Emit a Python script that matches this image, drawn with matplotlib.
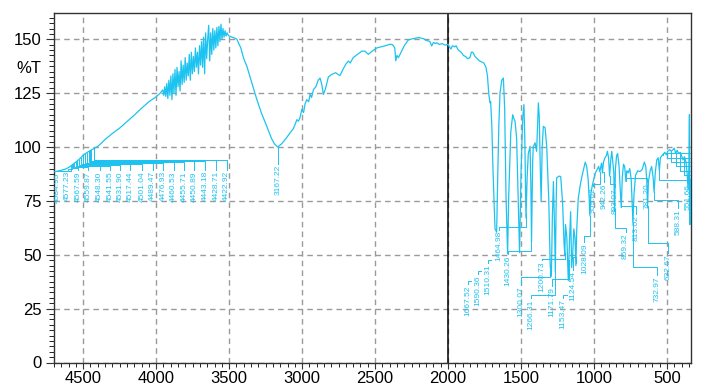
import numpy as np
import matplotlib
matplotlib.use('Agg')
import matplotlib.pyplot as plt
from matplotlib.ticker import MultipleLocator
from matplotlib.transforms import blended_transform_factory

plt.rcParams['font.family'] = ['Liberation Sans', 'DejaVu Sans']

# ---------------- spectrum data (wavenumber cm-1, %T) ----------------
# 4700-3960: smooth rising baseline
nir = [(4700, 88.5), (4650, 89.2), (4620, 89.8), (4600, 90.5), (4580, 91.5), (4560, 92.5),
       (4540, 93.6), (4520, 94.8), (4500, 96.2), (4480, 97.2), (4460, 98.0), (4440, 98.8),
       (4420, 99.5), (4400, 100.3), (4380, 101.5), (4350, 103.5), (4300, 106.3), (4250, 108.8),
       (4200, 111.8), (4150, 114.8), (4100, 118.0), (4050, 121.0), (4000, 123.3), (3975, 124.8)]
# 3955-3500: noisy region
noisy = [(3955, 126.5), (3948, 124), (3941, 128), (3934, 123.5), (3927, 129.5), (3920, 122.5),
         (3913, 131), (3906, 124), (3899, 133), (3892, 122), (3885, 134), (3878, 125), (3871, 136),
         (3864, 124), (3857, 137), (3850, 128), (3843, 135), (3836, 126), (3829, 140), (3822, 129),
         (3815, 138), (3808, 130), (3801, 141.5), (3794, 131), (3787, 139), (3780, 133), (3773, 143),
         (3766, 131), (3759, 144), (3752, 134), (3745, 142), (3738, 135), (3731, 146), (3724, 137),
         (3717, 144), (3710, 134), (3703, 147), (3696, 138), (3689, 149), (3682, 137), (3675, 151),
         (3668, 134), (3661, 153), (3654, 141), (3647, 150), (3640, 156.5), (3633, 140), (3626, 153),
         (3619, 143), (3612, 155), (3605, 145), (3598, 154), (3591, 146), (3584, 155.5), (3577, 147),
         (3570, 156), (3563, 149), (3556, 157), (3549, 150), (3542, 155), (3535, 151), (3528, 154),
         (3521, 151.5), (3514, 153), (3507, 152), (3500, 151.5)]
# 3500-1712: broad O-H band and plateau
mid = [(3480, 151), (3460, 150.5), (3447, 150), (3420, 146), (3400, 141), (3379, 137.6), (3350, 131),
       (3310, 122), (3280, 116), (3242, 109.6), (3210, 104), (3190, 101.5), (3167, 100), (3140, 101.5),
       (3110, 104), (3082, 106.6), (3060, 108.5), (3045, 111), (3036, 112.7), (3025, 112),
       (3015, 113.5), (3002, 117.4), (2990, 116), (2980, 120), (2968, 122), (2955, 121),
       (2945, 124.5), (2935, 123), (2922, 126.7), (2905, 128), (2890, 131), (2877, 132), (2865, 129),
       (2854, 124.4), (2840, 127), (2820, 132.5), (2797, 133.7), (2770, 134.5), (2750, 133.5),
       (2740, 133.2), (2720, 136), (2700, 138.5), (2683, 139.9), (2670, 139), (2650, 141.5),
       (2620, 143), (2591, 144.5), (2570, 144.5), (2546, 143), (2520, 144.5), (2488, 146),
       (2460, 146.5), (2430, 147), (2397, 147.7), (2380, 147.5), (2365, 146), (2358, 140),
       (2350, 142.5), (2340, 141.5), (2329, 143), (2300, 147), (2272, 149.7), (2240, 150.3),
       (2200, 150.8), (2169, 150.3), (2150, 149.5), (2125, 149), (2112, 146.9), (2100, 148.5),
       (2085, 148), (2077, 148.4), (2060, 147.6), (2040, 148), (2020, 147.3), (2000, 147.7),
       (1990, 146.5), (1980, 145.5), (1970, 147), (1955, 146.5), (1945, 147), (1930, 145),
       (1910, 144), (1895, 142.5), (1880, 142), (1865, 141), (1850, 141.5), (1840, 144),
       (1830, 144), (1815, 142), (1800, 141), (1785, 140), (1770, 139.5), (1755, 139), (1740, 137),
       (1730, 133), (1720, 124)]
# 1712-340: fingerprint region
finger = [(1712, 120.5), (1708, 121), (1700, 110), (1694, 94), (1685, 75), (1678, 62), (1667, 60.5),
          (1660, 85), (1652, 110), (1644, 125), (1632, 131), (1621, 132), (1612, 118), (1603, 78),
          (1592, 50.5), (1584, 78), (1570, 107), (1557, 115), (1548, 113), (1541, 112), (1530, 104),
          (1520, 78), (1510, 51), (1500, 88), (1488, 114), (1480, 119.7), (1474, 104), (1466, 67),
          (1458, 86), (1450, 97), (1438, 100.3), (1432, 80), (1428, 56), (1420, 94), (1416, 100),
          (1404, 102), (1393, 98), (1387, 110), (1381, 120.5), (1375, 114), (1368, 90), (1362, 75),
          (1355, 100), (1347, 109.6), (1335, 109), (1324, 100.3), (1310, 76), (1300, 45), (1292, 40),
          (1285, 68), (1278, 84), (1270, 62), (1265, 42), (1260, 70), (1256, 85.6), (1240, 86.5),
          (1228, 86.3), (1215, 74), (1205, 55), (1200, 50), (1195, 64), (1186, 58), (1176, 38),
          (1168, 56), (1160, 70), (1153, 44), (1146, 50), (1138, 62), (1130, 58), (1124, 45),
          (1118, 62), (1108, 76), (1095, 82), (1085, 85.6), (1070, 90), (1060, 93), (1050, 91),
          (1040, 85), (1033, 76), (1028, 68), (1022, 78), (1012, 82), (1005, 84), (990, 88),
          (980, 89.4), (968, 91), (960, 88.5), (953, 91), (948, 92.5), (942, 88), (935, 93),
          (925, 95), (915, 96), (908, 98), (900, 95), (893, 86.5), (885, 94), (878, 98), (870, 92),
          (864, 88), (859, 70), (853, 90), (845, 96), (838, 97), (828, 91), (820, 80), (813, 72),
          (806, 86), (798, 92), (790, 91), (781, 84), (775, 89), (765, 88), (755, 90), (745, 85),
          (738, 74), (733, 65), (726, 78), (715, 87), (700, 89), (685, 88.6), (670, 89.5), (655, 93),
          (645, 91), (638, 84), (633, 72), (627, 84), (615, 89), (605, 91), (595, 86), (588, 79),
          (580, 88), (570, 94), (560, 95), (552, 89), (545, 95), (530, 96.4), (515, 97.5),
          (504, 96.4), (495, 98), (481, 98.8), (470, 98), (458, 98.8), (450, 99.5), (440, 97),
          (430, 98.5), (420, 97), (410, 97.5), (400, 96), (390, 94), (380, 95.5), (370, 93),
          (362, 88), (355, 80), (350, 90), (346, 115), (343, 64), (339, 85)]

# ---------------- peak labels ----------------
peaks_nir = [4584.95, 4577.23, 4567.59, 4559.87, 4548.30, 4541.55, 4531.90, 4517.44, 4501.04,
             4489.47, 4476.93, 4460.53, 4455.71, 4450.89, 4443.18, 4428.71, 4422.92]
peaks_main = [3167.22, 1667.52, 1590.36, 1510.31, 1464.98, 1430.26, 1300.07, 1266.31, 1200.73,
              1171.79, 1153.47, 1124.54, 1028.09, 959.62, 942.26, 893.07, 859.32, 813.02,
              781.20, 732.97, 632.67, 588.31, 551.66]
peaks_edge = [530, 500, 470, 440, 410, 380]   # labels lie beyond the right edge

# label layout (label x in cm-1, label top and elbow in %T)
nir_lab_x = [4680, 4607, 4536, 4464, 4388, 4315, 4246, 4178, 4098, 4025, 3954, 3881, 3808,
             3740, 3664, 3591, 3516]
nir_lab_top = [88.8] + [89.3] * 16
nir_elbow = [89.0, 89.8, 90.3, 90.7, 91.0, 91.3, 91.6, 91.9, 92.2, 92.5, 92.8, 93.0, 93.2,
             93.4, 93.6, 93.8, 94.0]
main_lab_x = [3167.22, 1863, 1798, 1729, 1649, 1587, 1503, 1431, 1358, 1288, 1210, 1142, 1065,
              1005, 928, 853, 784, 709, 637, 568, 491, 421, 353]
main_lab_top = [92.3, 36.3, 41.0, 46.1, 61.5, 50.3, 35.9, 29.8, 47.5, 35.4, 29.8, 42.9, 55.9,
                82.0, 83.8, 81.5, 60.6, 69.0, 83.8, 40.5, 50.8, 71.7, 83.4]
main_elbow = [93.3, None, None, None, 63.0, 51.7, 39.8, 31.2, 47.9, 38.7, None, 49.0, 58.7,
              83.0, 88.5, 83.0, 62.4, 72.7, 85.7, 44.3, 55.3, 75.5, 84.8]
edge_elbow = [97.0, 95.0, 93.0, 91.0, 89.0, 87.0]

C = '#1cc3f0'

wn = np.array([p[0] for p in nir + noisy + mid + finger], float)
tt = np.array([p[1] for p in nir + noisy + mid + finger], float)
order = np.argsort(wn)
wn_s, tt_s = wn[order], tt[order]

fig = plt.figure(figsize=(7.11, 3.91), dpi=100)
ax = fig.add_axes([54 / 711, 1 - 362.5 / 391, (690.6 - 54) / 711, (362.5 - 13) / 391])

ax.plot(wn, tt, color=C, lw=0.9, zorder=3)


def peak_t(p):
    return float(np.interp(p, wn_s, tt_s))


def leader(p, lx, top, elbow, text):
    if elbow is None:
        xs, ys = [lx, lx, lx - 22], [top, top + 1.3, top + 1.3]
    else:
        xs, ys = [p, p, lx, lx], [peak_t(p), elbow, elbow, top]
    ax.plot(xs, ys, color=C, lw=0.7, zorder=3, clip_on=True)
    if text:
        ax.text(lx, top - 0.5, text, rotation=90, ha='center', va='top', fontsize=6,
                color=C, clip_on=True, zorder=4)


for p, lx, top, el in zip(peaks_nir, nir_lab_x, nir_lab_top, nir_elbow):
    leader(p, lx, top, el, '%.2f' % p)
for p, lx, top, el in zip(peaks_main, main_lab_x, main_lab_top, main_elbow):
    leader(p, lx, top, el, '%.2f' % p)
for p, el in zip(peaks_edge, edge_elbow):
    leader(p, 300, el - 1, el, '')

ax.axvline(2000, color='black', lw=1.1, zorder=2)

ax.set_xlim(4700, 338)
ax.set_ylim(0, 162.2)
ax.xaxis.set_major_locator(MultipleLocator(500))
ax.xaxis.set_minor_locator(MultipleLocator(50))
ax.yaxis.set_major_locator(MultipleLocator(25))
ax.yaxis.set_minor_locator(MultipleLocator(2.5))
ax.grid(True, which='major', color='#9a9a9a', lw=1.0, linestyle=(0, (4, 3)), zorder=1)
ax.tick_params(axis='both', which='major', labelsize=12, direction='out', color='#333333')
ax.tick_params(axis='y', which='major', length=6, pad=3)
ax.tick_params(axis='y', which='minor', length=3.6)
ax.tick_params(axis='x', which='major', length=4, pad=2)
ax.tick_params(axis='x', which='minor', length=3)
for s in ax.spines.values():
    s.set_color('#333333')
    s.set_linewidth(1.0)

tr = blended_transform_factory(ax.transAxes, ax.transData)
ax.text(-0.0193, 136.3, '%T', transform=tr, ha='right', va='center', fontsize=12)

fig.savefig('out.png', dpi=100)
